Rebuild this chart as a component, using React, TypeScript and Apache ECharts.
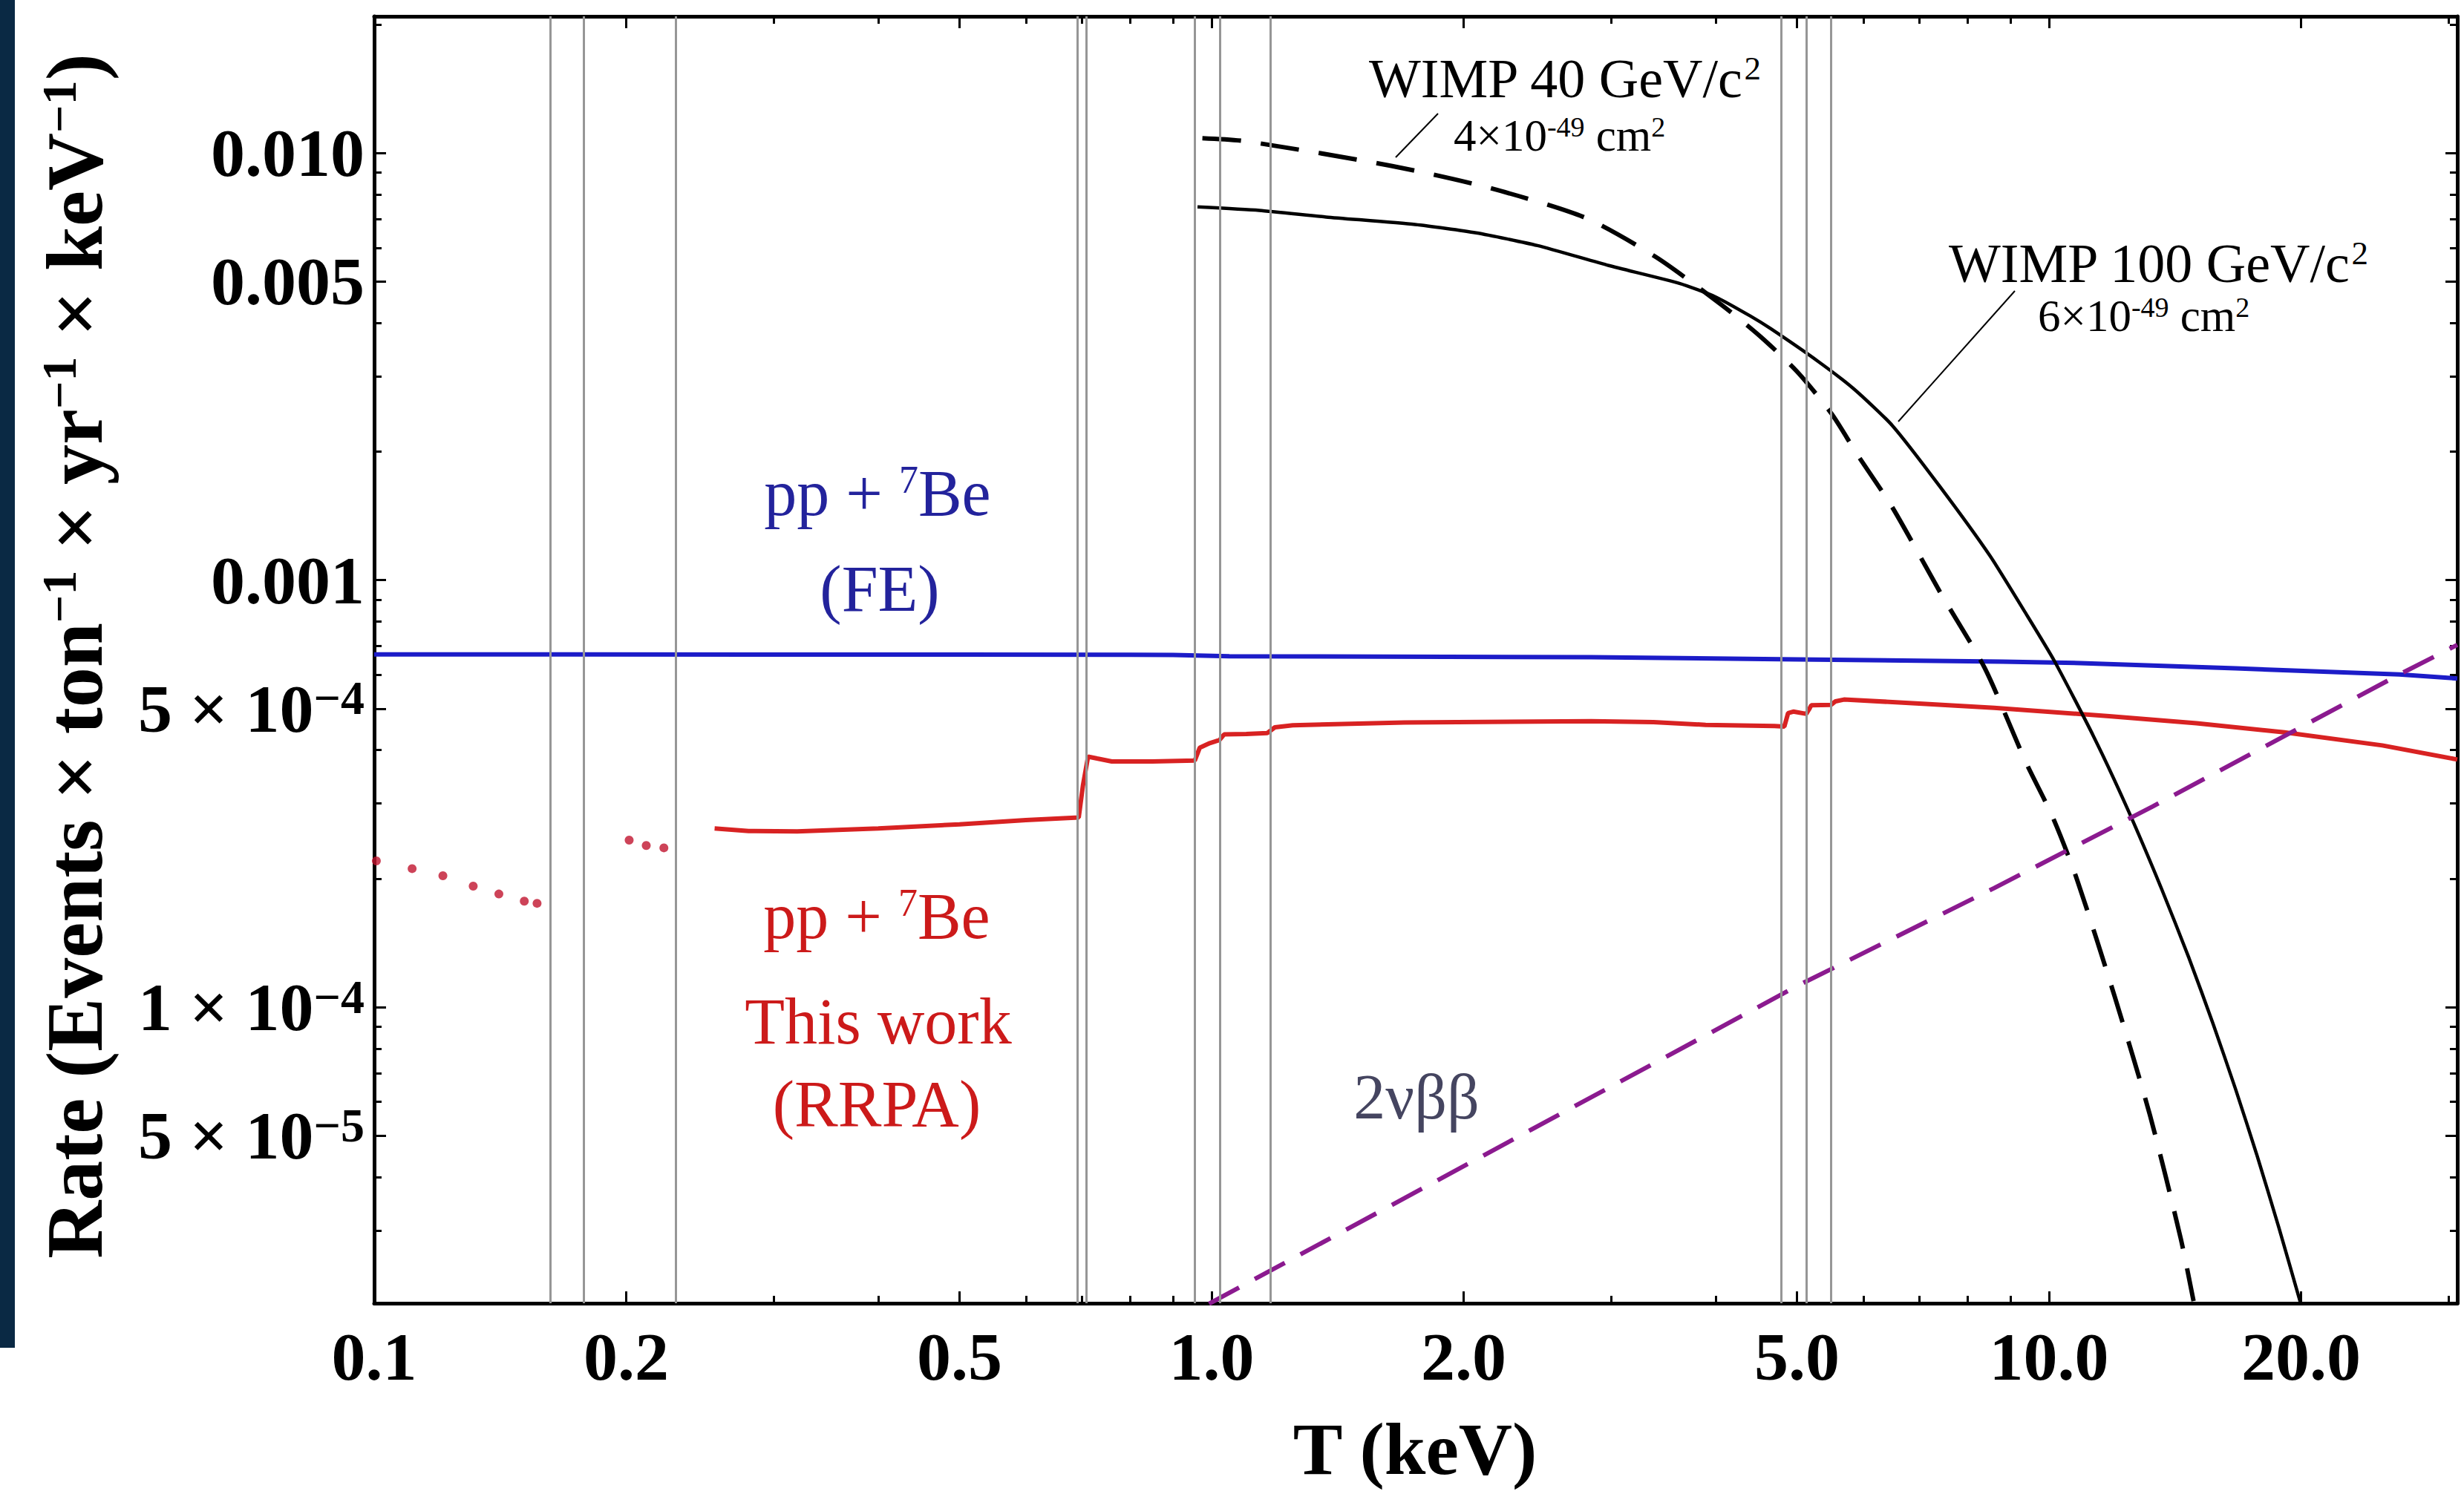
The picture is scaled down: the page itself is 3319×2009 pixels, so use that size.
import React, { useEffect, useRef } from 'react';
import * as echarts from 'echarts';

const W = 3319;
const H = 2009;
const SERIF = "'Liberation Serif', 'Times New Roman', 'DejaVu Serif', serif";

// Axis ranges (T in keV, rate in events / ton / yr / keV)
const X_RANGE = [0.1, 30.73];
const Y_RANGE = [2.026e-5, 0.02089];

// Tick values and labels
const xMajorTicks = [0.1, 0.2, 0.5, 1, 2, 5, 10, 20];
const xMajorLabels = ['0.1', '0.2', '0.5', '1.0', '2.0', '5.0', '10.0', '20.0'];
const xMinorTicks = [0.3, 0.4, 0.6, 0.7, 0.8, 0.9, 3, 4, 6, 7, 8, 9, 30];
const yMajorTicks = [5e-5, 1e-4, 5e-4, 1e-3, 5e-3, 1e-2];
const yMajorLabels: [string, string][] = [
  ['5 × 10', '−5'],
  ['1 × 10', '−4'],
  ['5 × 10', '−4'],
  ['0.001', ''],
  ['0.005', ''],
  ['0.010', ''],
];
const yMinorTicks = [
  3e-5, 4e-5, 6e-5, 7e-5, 8e-5, 9e-5,
  2e-4, 3e-4, 4e-4, 6e-4, 7e-4, 8e-4, 9e-4,
  2e-3, 3e-3, 4e-3, 6e-3, 7e-3, 8e-3, 9e-3, 2e-2,
];

// Atomic shell edges (keV), drawn as thin grey vertical lines
const shellEdges = [0.164, 0.176, 0.23, 0.696, 0.707, 0.962, 1.025, 1.17, 4.836, 5.16, 5.5];

// pp + 7Be (FE)
const ppBeFE: [number, number][] = [
  [0.1, 6.7e-4], [0.5, 6.69e-4], [0.9, 6.68e-4], [1.05, 6.63e-4], [2.84, 6.6e-4],
  [5.0, 6.52e-4], [8.79, 6.44e-4], [10.9, 6.39e-4], [16.7, 6.21e-4], [26.2, 6.01e-4], [30.73, 5.88e-4],
];

// pp + 7Be This work (RRPA): dotted low-energy parts
const rrpaDotsA: [number, number][] = [
  [0.1006, 2.2e-4], [0.111, 2.11e-4], [0.1208, 2.03e-4], [0.1313, 1.92e-4],
  [0.1409, 1.84e-4], [0.1511, 1.77e-4], [0.1565, 1.75e-4],
];
const rrpaDotsB: [number, number][] = [
  [0.2016, 2.46e-4], [0.2113, 2.39e-4], [0.2218, 2.36e-4],
];
// RRPA solid part
const rrpaLine: [number, number][] = [
  [0.255, 2.62e-4], [0.28, 2.585e-4], [0.32, 2.58e-4], [0.4, 2.62e-4], [0.5, 2.68e-4],
  [0.6, 2.74e-4], [0.694, 2.78e-4], [0.702, 3.3e-4], [0.712, 3.86e-4], [0.73, 3.82e-4],
  [0.76, 3.76e-4], [0.85, 3.76e-4], [0.955, 3.78e-4], [0.968, 4.05e-4], [0.995, 4.15e-4],
  [1.022, 4.22e-4], [1.035, 4.35e-4], [1.1, 4.36e-4], [1.165, 4.38e-4], [1.19, 4.52e-4],
  [1.25, 4.57e-4], [1.7, 4.64e-4], [2.84, 4.67e-4], [3.37, 4.65e-4], [3.89, 4.58e-4],
  [4.7, 4.55e-4], [4.83, 4.54e-4], [4.88, 4.88e-4], [4.95, 4.92e-4], [5.13, 4.86e-4],
  [5.17, 4.98e-4], [5.2, 5.09e-4], [5.49, 5.1e-4], [5.56, 5.2e-4], [5.69, 5.25e-4],
  [7.0, 5.14e-4], [8.6, 5.02e-4], [11.8, 4.8e-4], [15.0, 4.62e-4], [19.1, 4.4e-4],
  [25.0, 4.1e-4], [30.73, 3.8e-4],
];

// WIMP 100 GeV/c^2, 6e-49 cm^2 (solid)
const wimp100: [number, number][] = [
  [0.962, 7.48e-3], [1.14, 7.34e-3], [1.37, 7.08e-3], [1.75, 6.8e-3], [2.07, 6.5e-3], [2.45, 6.07e-3],
  [2.98, 5.45e-3], [3.62, 4.95e-3], [4.0, 4.6e-3], [4.4, 4.15e-3], [4.65, 3.88e-3],
  [5.3, 3.25e-3], [5.85, 2.8e-3], [6.5, 2.3e-3], [7.4, 1.66e-3], [8.5, 1.14e-3],
  [9.4, 8.3e-4], [10.15, 6.46e-4], [11.3, 4.31e-4], [12.4, 2.92e-4], [13.6, 1.91e-4],
  [14.7, 1.3e-4], [15.7, 9.14e-5], [16.7, 6.43e-5], [17.7, 4.52e-5], [18.8, 3.06e-5],
  [19.98, 2.02e-5],
];

// WIMP 40 GeV/c^2, 4e-49 cm^2 (dashed)
const wimp40: [number, number][] = [
  [0.975, 1.083e-2], [1.096, 1.066e-2], [1.639, 9.33e-3], [2.153, 8.27e-3], [2.795, 7.05e-3],
  [3.395, 5.7e-3], [4.07, 4.4e-3], [4.52, 3.72e-3], [5.0, 3.08e-3], [5.5, 2.45e-3],
  [5.907, 1.963e-3], [6.5, 1.48e-3], [7.43, 9.29e-4], [8.38, 6.22e-4], [9.38, 3.75e-4],
  [10.09, 2.8e-4], [10.78, 2.01e-4], [11.98, 1.058e-4], [13.2, 5.58e-5], [14.36, 2.88e-5],
  [14.88, 2.05e-5],
];

// 2νββ (dashed purple)
const twoNuBB: [number, number][] = [
  [0.993, 2.02e-5], [5.0, 1.12e-4], [8.6, 1.9e-4], [13.3, 2.95e-4], [26.2, 6.01e-4], [30.73, 7.05e-4],
];

const lg = Math.log10;
const toXY = (pts: [number, number][]) => pts.map(([t, r]) => [lg(t), lg(r)]);
const near = (a: number, b: number) => Math.abs(a - b) < 1e-6;

function buildOption() {
  const xMin = lg(X_RANGE[0]);
  const xMax = lg(X_RANGE[1]);
  const yMin = lg(Y_RANGE[0]);
  const yMax = lg(Y_RANGE[1]);

  const tickStyle = { color: '#000', width: 3 };
  const lineOn = { show: true, onZero: false, lineStyle: { color: '#000', width: 5 } };
  const lineOff = { show: false, onZero: false };

  const xAxisDef = (position: string, ticks: number[], len: number, showLine: boolean, label: any) => ({
    type: 'value',
    position,
    min: xMin,
    max: xMax,
    axisLine: showLine ? lineOn : lineOff,
    axisTick: { show: true, inside: true, length: len, customValues: ticks.map(lg), lineStyle: tickStyle },
    axisLabel: label,
    splitLine: { show: false },
    minorTick: { show: false },
  });
  const yAxisDef = (position: string, ticks: number[], len: number, showLine: boolean, label: any) => ({
    type: 'value',
    position,
    min: yMin,
    max: yMax,
    axisLine: showLine ? lineOn : lineOff,
    axisTick: { show: true, inside: true, length: len, customValues: ticks.map(lg), lineStyle: tickStyle },
    axisLabel: label,
    splitLine: { show: false },
    minorTick: { show: false },
  });

  const xLabel = {
    show: true,
    customValues: xMajorTicks.map(lg),
    margin: 26,
    fontFamily: SERIF,
    fontWeight: 'bold',
    fontSize: 92,
    color: '#000',
    formatter: (v: number) => {
      const i = xMajorTicks.findIndex((t) => near(lg(t), v));
      return i >= 0 ? xMajorLabels[i] : '';
    },
  };
  const yLabel = {
    show: true,
    customValues: yMajorTicks.map(lg),
    margin: 13,
    formatter: (v: number) => {
      const i = yMajorTicks.findIndex((t) => near(lg(t), v));
      if (i < 0) return '';
      const [m, s] = yMajorLabels[i];
      return s ? `{m|${m}}{s|${s}}` : `{m|${m}}`;
    },
    rich: {
      m: { fontFamily: SERIF, fontWeight: 'bold', fontSize: 92, color: '#000' },
      s: { fontFamily: SERIF, fontWeight: 'bold', fontSize: 64, color: '#000', verticalAlign: 'top' },
    },
  };

  const txt = (x: number, y: number, text: string, rich: any, align = 'center') => ({
    type: 'text',
    x,
    y,
    silent: true,
    z: 50,
    style: { text, align, verticalAlign: 'middle', rich },
  });
  const richPair = (size: number, supSize: number, color: string, weight = 'normal') => ({
    a: { fontFamily: SERIF, fontSize: size, fontWeight: weight, fill: color },
    s: { fontFamily: SERIF, fontSize: supSize, fontWeight: weight, fill: color, verticalAlign: 'top' },
  });

  const blueTxt = '#23239c';
  const redTxt = '#cc1a1a';

  return {
    animation: false,
    backgroundColor: '#ffffff',
    grid: { left: 504, right: 9, top: 22, bottom: 253, containLabel: false },
    xAxis: [
      xAxisDef('bottom', xMajorTicks, 16, true, xLabel),
      xAxisDef('bottom', xMinorTicks, 10, false, { show: false }),
      xAxisDef('top', xMajorTicks, 16, true, { show: false }),
      xAxisDef('top', xMinorTicks, 10, false, { show: false }),
    ],
    yAxis: [
      yAxisDef('left', yMajorTicks, 16, true, yLabel),
      yAxisDef('left', yMinorTicks, 10, false, { show: false }),
      yAxisDef('right', yMajorTicks, 16, true, { show: false }),
      yAxisDef('right', yMinorTicks, 10, false, { show: false }),
    ],
    series: [
      {
        name: 'shell edges',
        type: 'line',
        data: [],
        z: 1,
        silent: true,
        markLine: {
          silent: true,
          symbol: ['none', 'none'],
          label: { show: false },
          lineStyle: { color: '#969696', width: 3, type: 'solid' },
          data: shellEdges.map((e) => ({ xAxis: lg(e) })),
        },
      },
      {
        name: 'pp + 7Be (FE)',
        type: 'line',
        data: toXY(ppBeFE),
        showSymbol: false,
        z: 3,
        lineStyle: { color: '#1c1cc8', width: 6 },
      },
      {
        name: 'pp + 7Be RRPA',
        type: 'line',
        data: toXY(rrpaLine),
        showSymbol: false,
        z: 3,
        lineStyle: { color: '#d82222', width: 6 },
      },
      {
        name: 'RRPA dots A',
        type: 'scatter',
        data: toXY(rrpaDotsA),
        symbolSize: 12,
        z: 3,
        itemStyle: { color: '#c0142e' },
      },
      {
        name: 'RRPA dots B',
        type: 'scatter',
        data: toXY(rrpaDotsB),
        symbolSize: 12,
        z: 3,
        itemStyle: { color: '#c0142e' },
      },
      {
        name: 'WIMP 100',
        type: 'line',
        data: toXY(wimp100),
        showSymbol: false,
        smooth: 0.2,
        z: 4,
        lineStyle: { color: '#000', width: 4.5 },
      },
      {
        name: 'WIMP 40',
        type: 'line',
        data: toXY(wimp40),
        showSymbol: false,
        smooth: 0.25,
        z: 4,
        lineStyle: { color: '#000', width: 6, type: [52, 27] },
      },
      {
        name: '2vbb',
        type: 'line',
        data: toXY(twoNuBB),
        showSymbol: false,
        z: 4,
        lineStyle: { color: '#8b1a8f', width: 6, type: [46, 24] },
      },
    ],
    graphic: [
      { type: 'rect', silent: true, shape: { x: 0, y: 0, width: 20, height: 1816 }, style: { fill: '#0a2944' } },
      // axis titles
      {
        type: 'text',
        x: 100,
        y: 884,
        rotation: Math.PI / 2,
        silent: true,
        style: {
          text: '{a|Rate (Events × ton}{s|−1}{a| × yr}{s|−1}{a| × keV}{s|−1}{a|)}',
          align: 'center',
          verticalAlign: 'middle',
          rich: richPair(108, 66, '#000', 'bold'),
        },
      },
      txt(1906, 1952, '{a|T (keV)}', richPair(100, 60, '#000', 'bold')),
      // WIMP labels
      txt(1844, 106, '{a|WIMP 40 GeV/c}{s|2}', richPair(74, 45, '#000'), 'left'),
      txt(1958, 182, '{a|4×10}{s|-49}{a| cm}{s|2}', richPair(61, 38, '#000'), 'left'),
      txt(2625, 355, '{a|WIMP 100 GeV/c}{s|2}', richPair(74, 45, '#000'), 'left'),
      txt(2745, 425, '{a|6×10}{s|-49}{a| cm}{s|2}', richPair(61, 38, '#000'), 'left'),
      { type: 'line', silent: true, shape: { x1: 1937, y1: 153, x2: 1880, y2: 212 }, style: { stroke: '#000', lineWidth: 2 } },
      { type: 'line', silent: true, shape: { x1: 2714, y1: 392, x2: 2557, y2: 568 }, style: { stroke: '#000', lineWidth: 2 } },
      // neutrino labels
      txt(1182, 664, '{a|pp + }{s|7}{a|Be}', richPair(88, 52, blueTxt)),
      txt(1185, 793, '{a|(FE)}', richPair(88, 52, blueTxt)),
      txt(1181, 1234, '{a|pp + }{s|7}{a|Be}', richPair(88, 52, redTxt)),
      txt(1183, 1376, '{a|This work}', richPair(88, 52, redTxt)),
      txt(1181, 1487, '{a|(RRPA)}', richPair(88, 52, redTxt)),
      txt(1908, 1478, '{a|2νββ}', richPair(86, 52, '#454560')),
    ],
  };
}

export default function App() {
  const ref = useRef<HTMLDivElement>(null);
  useEffect(() => {
    if (!ref.current) return;
    const chart = echarts.init(ref.current, null, { renderer: 'svg' });
    chart.setOption(buildOption() as any);
    return () => {
      chart.dispose();
    };
  }, []);
  return (
    <div
      ref={ref}
      style={{ position: 'absolute', left: 0, top: 0, width: W, height: H, background: '#ffffff' }}
    />
  );
}
